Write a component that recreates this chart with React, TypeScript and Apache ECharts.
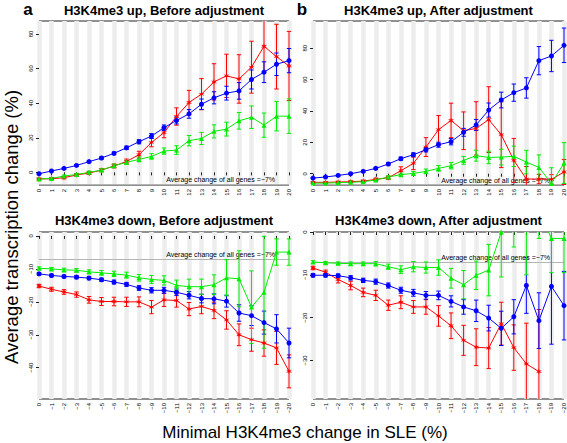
import React, { useEffect, useRef } from "react";
import * as echarts from "echarts";

// ---------- data ----------
const xTopLabels = ["0","1","2","3","4","5","6","7","8","9","10","11","12","13","14","15","16","17","18","19","20"];
const xBottomLabels = ["0","−1","−2","−3","−4","−5","−6","−7","−8","−9","−10","−11","−12","−13","−14","−15","−16","−17","−18","−19","−20"];

const panelTitles = [
  "H3K4me3 up, Before adjustment",
  "H3K4me3 up, After adjustment",
  "H3K4me3 down, Before adjustment",
  "H3K4me3 down, After adjustment",
];
const panelLetters = ["a", "b"];
const yTitle = "Average transcription change (%)";
const xTitle = "Minimal H3K4me3 change in SLE (%)";
const avgText = "Average change of all genes =−7%";
const avgValue = -7;

const yTicksA = [0, 20, 40, 60, 80];
const yTicksB = [0, 20, 40, 60, 80];
const yTicksC = [0, -10, -20, -30, -40];
const yTicksD = [0, -10, -20, -30];

// panel a: up, before
const blueA = [-0.8,0.8,2.3,4.0,6.2,8.3,11,14.2,17.7,21,25.8,30,33.8,39.4,43.1,45.8,47.1,53.7,57.9,62.5,64.6];
const blueAErr = [0.4,0.4,0.5,0.5,0.6,0.7,0.8,1.0,1.2,1.4,1.6,2.0,2.5,3.0,3.5,4.0,4.8,5.5,6,6.5,7];
const redA = [-3.8,-3.7,-3.1,-1.5,-0.4,1.3,3.7,6.3,10.2,17.3,23,32.3,40.4,45.2,52.3,55.8,54,60.8,72.9,66.9,61.5];
const redAErr = [0.5,0.5,0.6,0.7,0.8,0.9,1.1,1.4,2,2.5,3,5,7,9,10.5,12.5,14,15,15,18.7,20];
const greenA = [-3.8,-3.5,-2.1,-1.2,0,1.3,3.8,5.8,7.5,9.2,12.3,12.9,18.3,19.6,23.7,25,29.8,31.9,27.3,32.5,32.5];
const greenAErr = [0.4,0.4,0.5,0.6,0.7,0.8,1.0,1.2,1.4,1.6,1.8,2.5,3,3.5,3.8,4,4.8,6.5,7,8.5,10];

// panel b: up, after
const blueB = [-2.8,-2.1,-1.1,0,1.5,3.4,6.2,9.6,12.1,15.3,18.5,20.4,26.4,31.1,40.6,47,51.7,54.7,72.1,75.1,81.9];
const blueBErr = [0.4,0.4,0.5,0.5,0.6,0.7,0.8,1,1.2,1.4,1.6,2,2.5,3.5,4.5,5,5.5,6.5,9,10,11];
const redB = [-5.5,-5.5,-5.3,-5.1,-4.7,-3.6,-2.6,1.9,6.6,17,28.1,34,27.4,28.9,34.5,24.9,8.5,-3.4,-3.4,-3.6,1.1];
const redBErr = [0.3,0.3,0.4,0.5,0.6,0.8,1,2.5,4,6,9,11,12,17,21,21,14,8,3,3,8];
const greenB = [-6,-6,-5.7,-5.5,-5.1,-4,-2.1,-0.6,0.2,1.5,3.4,5.1,8.5,11.5,10.4,10.6,11.1,7.4,4,-6.2,6.8];
const greenBErr = [0.3,0.3,0.4,0.4,0.5,0.6,0.8,1,1.2,1.5,1.8,2,2.5,3.5,4,5,6.5,7.5,8,10,13];

// panel c: down, before
const blueC = [-11.5,-12,-12.3,-12.5,-12.8,-13.3,-14,-14.7,-15.8,-16.5,-16.5,-17.1,-18,-19,-19.1,-19.8,-23.4,-24.2,-26.3,-28.2,-32.5];
const blueCErr = [0.4,0.4,0.4,0.5,0.5,0.5,0.6,0.6,0.7,0.8,0.9,1,1.1,1.3,1.5,1.8,2.5,3,3.5,4.3,4.5];
const redC = [-15.2,-16.2,-17,-17.8,-19.4,-19.9,-19.9,-20,-20,-21.6,-19.4,-19.6,-22.2,-21.4,-22.6,-25.5,-30,-31.5,-32.5,-34,-41.1];
const redCErr = [0.5,0.6,0.7,0.8,1,1.2,1.3,1.4,1.5,2,2,2,2,2.2,2.5,2.8,3.3,3.5,4,5,5];
const greenC = [-9.8,-10,-10.3,-10.4,-10.9,-11.2,-11.5,-11.9,-12.7,-13.2,-13.5,-15,-15.4,-15.4,-14.8,-12.7,-13,-21.6,-17.1,-4.9,-4.9];
const greenCErr = [0.4,0.4,0.5,0.5,0.6,0.7,0.8,0.9,1,1.2,1.4,1.6,2.3,2.3,3,5.5,8.5,11,17,4,4];

// panel d: down, after
const blueD = [-10.1,-10.1,-10.2,-10.7,-11.3,-11.6,-12.5,-13.6,-14.2,-14.8,-14.8,-16.2,-17.5,-18.4,-20.1,-22.5,-19.8,-12.5,-20.7,-12.7,-17.2];
const blueDErr = [0.4,0.4,0.4,0.5,0.5,0.6,0.6,0.7,0.8,0.9,1,1.3,1.7,2.5,3,4,4,6.5,6.5,13.5,8];
const redD = [-8.4,-9.4,-11.1,-12.5,-14.1,-14.8,-17.1,-16.4,-17.5,-17.5,-19.6,-21.9,-25.3,-26.9,-27.1,-21.4,-27,-30.8,-32.6,null,null];
const redDErr = [0.4,0.5,0.8,1,1,1.2,1.2,1.5,1.5,1.7,2.4,3,3.5,4.3,4.8,5,5.3,9.5,14.5,null,null];
const greenD = [-7,-7.2,-7.3,-7.4,-7.4,-7.4,-8.1,-8.8,-8.1,-8.3,-8.3,-10.8,-12.3,-10.1,-8.9,0,4.5,5,5,-1.5,-1.5];
const greenDErr = [0.3,0.3,0.3,0.4,0.4,0.5,0.6,0.9,1.2,1.3,1.8,2.3,3.3,3.3,6,10.5,8,15,6.5,8,8];

// ---------- layout / style ----------
const RED = "#ff0000";
const BLUE = "#0000ff";
const GREEN = "#00ee00";
const FONT = "Liberation Sans, Arial, Helvetica, sans-serif";

const gridBoxes = [
  { left: 39, top: 21, width: 250, height: 164 },
  { left: 313, top: 21, width: 251, height: 164 },
  { left: 39, top: 232, width: 250, height: 167 },
  { left: 313, top: 232, width: 251, height: 167 },
];
const yRanges = [
  [-7.3, 87.5],
  [-7.2, 97.4],
  [-49.5, 1.2],
  [-39, 0],
];

function starPath(): string {
  const pts: string[] = [];
  for (let k = 0; k < 12; k++) {
    const a = (Math.PI / 6) * k - Math.PI / 2;
    const r = k % 2 === 0 ? 10 : 3.5;
    pts.push((k === 0 ? "M" : "L") + (r * Math.cos(a)).toFixed(2) + "," + (r * Math.sin(a)).toFixed(2));
  }
  return "path://" + pts.join(" ") + " Z";
}

function errSeries(gi: number, vals: (number | null)[], errs: (number | null)[], color: string) {
  const data = vals.map((v, i) => [i, v == null ? NaN : v, errs[i] == null ? 0 : errs[i]]);
  return {
    type: "custom",
    xAxisIndex: gi,
    yAxisIndex: gi,
    silent: true,
    data,
    encode: { x: 0, y: 1 },
    z: 3,
    renderItem: (params: any, api: any) => {
      const x = api.value(0);
      const v = api.value(1);
      const e = api.value(2);
      if (v == null || isNaN(v)) return null;
      const cs = params.coordSys;
      const top = api.coord([x, v + e]);
      const bot = api.coord([x, v - e]);
      const yMin = cs.y;
      const yMax = cs.y + cs.height;
      const cap = 2.2;
      const style = { stroke: color, lineWidth: 1 };
      const children: any[] = [];
      const y1 = Math.max(yMin, Math.min(yMax, top[1]));
      const y2 = Math.max(yMin, Math.min(yMax, bot[1]));
      if (y2 - y1 > 0) {
        children.push({ type: "line", shape: { x1: top[0], y1, x2: top[0], y2 }, style });
      }
      if (top[1] >= yMin && top[1] <= yMax) {
        children.push({ type: "line", shape: { x1: top[0] - cap, y1: top[1], x2: top[0] + cap, y2: top[1] }, style });
      }
      if (bot[1] >= yMin && bot[1] <= yMax) {
        children.push({ type: "line", shape: { x1: bot[0] - cap, y1: bot[1], x2: bot[0] + cap, y2: bot[1] }, style });
      }
      return { type: "group", children };
    },
  };
}

function lineSeries(gi: number, vals: (number | null)[], color: string, symbol: string, size: number, withAvg: boolean) {
  const s: any = {
    type: "line",
    xAxisIndex: gi,
    yAxisIndex: gi,
    data: vals,
    symbol,
    symbolSize: size,
    showSymbol: true,
    showAllSymbol: true,
    connectNulls: false,
    silent: true,
    z: 4,
    lineStyle: { color, width: 1 },
    itemStyle: { color, borderWidth: 0 },
  };
  if (withAvg) {
    s.markLine = {
      silent: true,
      symbol: "none",
      animation: false,
      z: 2,
      data: [{ yAxis: avgValue }],
      lineStyle: { color: "#b4b4b4", type: "solid", width: 1.2 },
      label: {
        show: true,
        position: "insideEndTop",
        formatter: avgText,
        fontSize: 7,
        fontFamily: FONT,
        color: "#000",
        distance: [14, 1],
      },
    };
  }
  return s;
}

export default function App() {
  const ref = useRef<HTMLDivElement>(null);

  useEffect(() => {
    document.body.style.margin = "0";
    if (!ref.current) return;
    const chart = echarts.init(ref.current, null, { renderer: "svg" });
    const star = starPath();

    const panels = [
      { blue: blueA, blueE: blueAErr, red: redA, redE: redAErr, green: greenA, greenE: greenAErr, ticks: yTicksA, x: xTopLabels },
      { blue: blueB, blueE: blueBErr, red: redB, redE: redBErr, green: greenB, greenE: greenBErr, ticks: yTicksB, x: xTopLabels },
      { blue: blueC, blueE: blueCErr, red: redC, redE: redCErr, green: greenC, greenE: greenCErr, ticks: yTicksC, x: xBottomLabels },
      { blue: blueD, blueE: blueDErr, red: redD, redE: redDErr, green: greenD, greenE: greenDErr, ticks: yTicksD, x: xBottomLabels },
    ];

    const grid = gridBoxes.map((g) => ({
      ...g,
      show: true,
      borderColor: "#222",
      borderWidth: 1,
      backgroundColor: "transparent",
      containLabel: false,
      outerBoundsMode: "none",
    }));

    const xAxis = panels.map((p, i) => ({
      type: "category",
      gridIndex: i,
      data: p.x,
      boundaryGap: false,
      axisLine: { show: false },
      axisTick: { show: true, interval: 0, length: 3, lineStyle: { color: "#222", width: 1 } },
      axisLabel: { show: true, interval: 0, rotate: 90, fontSize: 6, fontFamily: FONT, color: "#000", margin: 4 },
      splitLine: { show: true, interval: 0, lineStyle: { color: "#ededed", width: 4.5 } },
    }));

    const yAxis = panels.map((p, i) => ({
      type: "value",
      gridIndex: i,
      min: yRanges[i][0],
      max: yRanges[i][1],
      axisLine: { show: false },
      splitLine: { show: false },
      axisTick: { show: true, length: 3, customValues: p.ticks, lineStyle: { color: "#222", width: 1 } },
      axisLabel: {
        show: true,
        rotate: 90,
        fontSize: 6,
        fontFamily: FONT,
        color: "#000",
        margin: 5,
        customValues: p.ticks,
        formatter: (v: number) => String(v).replace("-", "−"),
      },
    }));

    const series: any[] = [];
    panels.forEach((p, i) => {
      series.push(errSeries(i, p.red, p.redE, RED));
      series.push(errSeries(i, p.blue, p.blueE, BLUE));
      series.push(errSeries(i, p.green, p.greenE, GREEN));
      series.push(lineSeries(i, p.red, RED, star, 6, false));
      series.push(lineSeries(i, p.blue, BLUE, "circle", 5, false));
      series.push(lineSeries(i, p.green, GREEN, "triangle", 5, true));
    });

    const titleStyle = { fontSize: 13, fontWeight: "bold", fontFamily: FONT, fill: "#000" };
    const letterStyle = { fontSize: 17, fontWeight: "bold", fontFamily: FONT, fill: "#000", textAlign: "center", textVerticalAlign: "bottom" };
    const graphic: any[] = [
      ...gridBoxes.map((g, i) => ({
        type: "text",
        x: g.left + g.width / 2,
        y: i < 2 ? 10 : 220.5,
        style: { ...titleStyle, text: panelTitles[i], textAlign: "center", textVerticalAlign: "middle" },
      })),
      { type: "text", x: 28, y: 18, style: { ...letterStyle, text: panelLetters[0] } },
      { type: "text", x: 302, y: 18, style: { ...letterStyle, text: panelLetters[1] } },
      {
        type: "text",
        x: 11,
        y: 227,
        rotation: Math.PI / 2,
        style: { text: yTitle, fontSize: 18.5, fontFamily: FONT, fill: "#000", textAlign: "center", textVerticalAlign: "middle" },
      },
      {
        type: "text",
        x: 305,
        y: 432,
        style: { text: xTitle, fontSize: 17, fontFamily: FONT, fill: "#000", textAlign: "center", textVerticalAlign: "middle" },
      },
    ];

    chart.setOption({
      animation: false,
      backgroundColor: "#ffffff",
      grid,
      xAxis,
      yAxis,
      series,
      graphic,
    });

    return () => {
      chart.dispose();
    };
  }, []);

  return <div ref={ref} style={{ width: 567, height: 443 }} />;
}
